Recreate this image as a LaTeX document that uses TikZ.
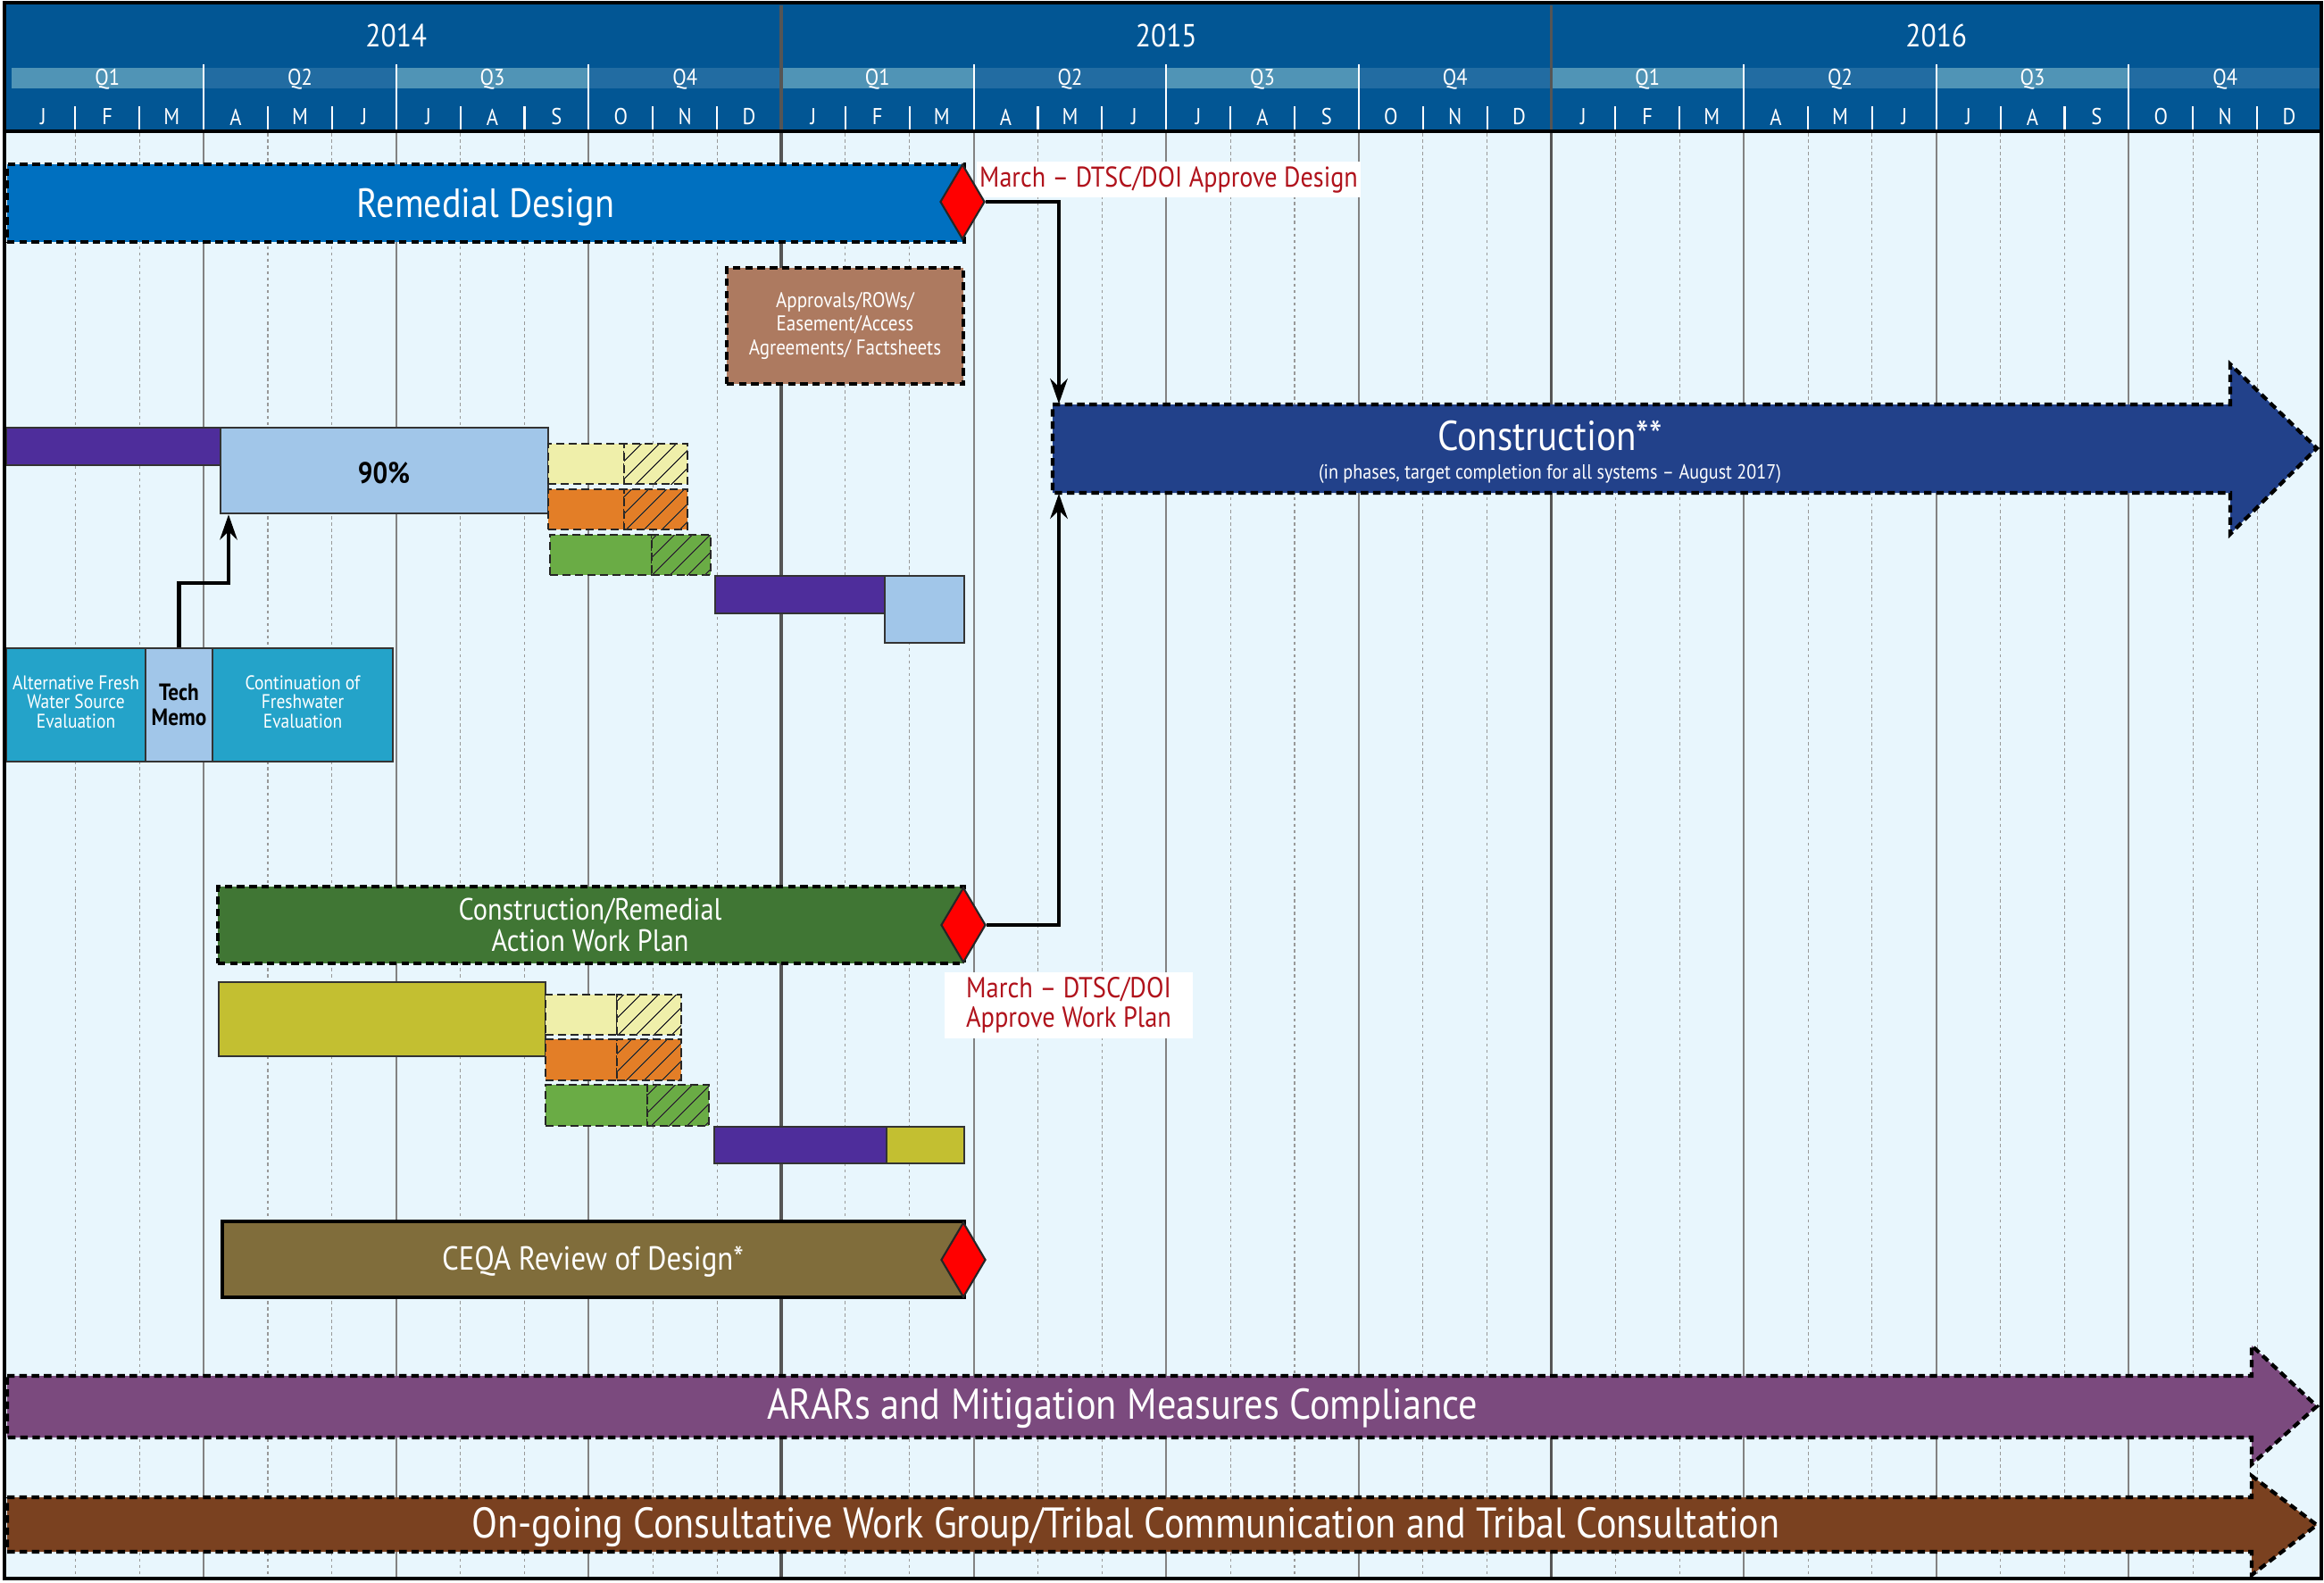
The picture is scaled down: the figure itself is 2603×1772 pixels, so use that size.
\documentclass[tikz,border=0pt]{standalone}
\usepackage{fontspec}
\setmainfont{PT Sans}[FakeStretch=0.88]
\usetikzlibrary{arrows.meta,shapes.geometric,fit,patterns.meta}
\definecolor{hdrblue}{RGB}{2,86,148}
\definecolor{qlight}{RGB}{80,148,182}
\definecolor{qmid}{RGB}{34,108,162}
\definecolor{bodyblue}{RGB}{232,246,253}
\definecolor{yearline}{RGB}{85,85,85}
\definecolor{qline}{RGB}{130,130,130}
\definecolor{rdblue}{RGB}{0,112,192}
\definecolor{permitbrown}{RGB}{173,122,96}
\definecolor{constrblue}{RGB}{34,65,138}
\definecolor{dsgnpurple}{RGB}{78,45,155}
\definecolor{dsgnlight}{RGB}{161,198,233}
\definecolor{paleyel}{RGB}{239,239,170}
\definecolor{revorange}{RGB}{227,126,39}
\definecolor{revgreen}{RGB}{106,172,69}
\definecolor{fwteal}{RGB}{36,163,201}
\definecolor{wpgreen}{RGB}{64,118,52}
\definecolor{wpolive}{RGB}{195,191,49}
\definecolor{ceqabrown}{RGB}{128,109,59}
\definecolor{ararpurple}{RGB}{123,74,126}
\definecolor{tribalbrown}{RGB}{122,65,32}
\definecolor{msred}{RGB}{176,18,27}
\tikzset{
  bar/.style = {inner sep=0pt},
  bartext/.style = {inner sep=0pt, text=white, align=center},
  dashbar/.style = {bar, draw=black, line width=1.2pt,
    dash pattern=on 2.4pt off 1.5pt},% phase bar, dashed outline
  solidbar/.style = {bar, draw=black!80, line width=0.7pt},% task bar
  subbar/.style = {inner sep=0pt, draw=black!85, line width=0.65pt,
    dash pattern=on 2.6pt off 1.4pt},% review bar
  hatch/.style = {postaction={pattern={Lines[angle=45,distance=4pt,line width=0.35pt]},
    pattern color=black!80}},
  milestone/.style = {diamond, draw=black!85, line width=0.6pt, fill=red,
    inner sep=0pt, minimum width=0.5cm, minimum height=0.84cm},
  notebox/.style = {fill=white, text=msred, inner sep=1pt, align=center},
  conn/.style = {draw=black, line width=1.4pt},
  bigarrow/.style = {draw=black, line width=1.2pt, dash pattern=on 2.4pt off 1.5pt},
  yearlbl/.style = {text=white, inner sep=0pt, font=\fontsize{10.2}{12}\selectfont},
  qlbl/.style = {text=white, inner sep=0pt, font=\fontsize{7.3}{9}\selectfont},
  hdrtick/.style = {draw=white, line width=0.6pt},
  monthgrid/.style = {draw=black!40, line width=0.3pt, dash pattern=on 1pt off 1pt},
  qgrid/.style = {draw=qline, line width=0.6pt},
  ygrid/.style = {draw=yearline, line width=1.1pt}
}
\begin{document}
\begin{tikzpicture}[x=0.01cm, y=-0.01cm, >={Stealth[length=8pt,width=5.5pt]}]
\fill[white] (0,0) rectangle (2603,1772);
\useasboundingbox (0,0) rectangle (2603,1772);
\fill[bodyblue] (5,147) rectangle (2600,1768);
\fill[hdrblue] (5,3) rectangle (2600,147);
% quarter bands
\foreach \q in {0,2,...,10}
  \fill[qlight] ({12.5+215.625*\q},76) rectangle ({12.5+215.625*(\q+1)},99);
\foreach \q in {1,3,...,11}
  \fill[qmid] ({12.5+215.625*\q},76) rectangle ({12.5+215.625*(\q+1)},99);
% header ticks and body grid
\foreach \q in {1,2,3,5,6,7,9,10,11} {
  \draw[hdrtick] ({12.5+215.625*\q},72) -- ++(0,73);
  \draw[qgrid] ({12.5+215.625*\q},149) -- ++(0,1619);
}
\foreach \q in {0,...,11}
  \foreach \k in {1,2} {
    \draw[hdrtick] ({12.5+71.875*(3*\q+\k)},119) -- ++(0,26);
    \draw[monthgrid] ({12.5+71.875*(3*\q+\k)},149) -- ++(0,1619);
  }
\foreach \y in {1,2}
  \draw[ygrid] ({12.5+862.5*\y},6) -- ++(0,1762);
\draw[black, line width=1.1pt] (5,147) -- (2600,147);
% header labels
\foreach \y [count=\i from 0] in {2014,2015,2016}
  \node[yearlbl] (yr\y) at ({12.5+862.5*(\i+0.5)},40) {\y};
\foreach \i in {0,...,11} {
  \pgfmathtruncatemacro\qn{mod(\i,4)+1}
  \node[qlbl] (q\i) at ({12.5+215.625*(\i+0.5)},89) {Q\qn};
}
\foreach \yr in {0,1,2}
  \foreach \ml [count=\i from 0] in {J,F,M,A,M,J,J,A,S,O,N,D}
    \node[qlbl] (m\yr-\i) at ({12.5+71.875*(12*\yr+\i+0.5)},131) {\ml};

% remedial design
\node[dashbar, fill=rdblue, fit={(8,184) (1080,271)}] (rdbar) {};
\node[bartext, font=\fontsize{13}{15}\selectfont] (rdtxt) at (544,232) {Remedial Design};
\node[dashbar, fill=permitbrown, fit={(814,300) (1079,430)}] (permits) {};
\node[bartext, font=\fontsize{6.8}{7.5}\selectfont] (permtxt) at (permits)
  {Approvals/ROWs/\\Easement/Access\\Agreements/ Factsheets};

% construction
\draw[bigarrow, fill=constrblue] (1179,453) -- (2498,453) -- (2498,408) -- (2595,502)
  -- (2498,598) -- (2498,552) -- (1179,552) -- cycle;
\node[inner sep=0pt, fit={(1179,453) (2498,552)}] (constr) {};
\node[bartext, font=\fontsize{13.3}{15}\selectfont] (constrttl) at (1736,488) {Construction**};
\node[bartext, font=\fontsize{6.5}{7.5}\selectfont] (constrsub) at (1736,531)
  {(in phases, target completion for all systems – August 2017)};

% design packages
\node[solidbar, fill=dsgnpurple, fit={(7,479) (247,521)}] (dsgn1) {};
\node[solidbar, fill=dsgnlight, fit={(247,479) (614,575)}] (pct) {};
\node[bartext, text=black, font=\bfseries\fontsize{9.5}{11}\selectfont] (pcttxt) at (430,530) {90\%};
\node[subbar, fill=paleyel, fit={(614,497) (699,542)}] (rev1a) {};
\node[subbar, fill=paleyel, hatch, fit={(699,497) (770,542)}] (rev1b) {};
\node[subbar, fill=revorange, fit={(614,548) (699,593)}] (rev2a) {};
\node[subbar, fill=revorange, hatch, fit={(699,548) (770,593)}] (rev2b) {};
\node[subbar, fill=revgreen, fit={(616,599) (730,644)}] (rev3a) {};
\node[subbar, fill=revgreen, hatch, fit={(730,599) (796,644)}] (rev3b) {};
\node[solidbar, fill=dsgnpurple, fit={(801,645) (991,687)}] (dsgn2) {};
\node[solidbar, fill=dsgnlight, fit={(991,645) (1080,720)}] (dsgn3) {};

% fresh water
\node[solidbar, fill=fwteal, fit={(7,726) (163,853)}] (altfw) {};
\node[bartext, font=\fontsize{6.3}{6.1}\selectfont] (altfwtxt) at (85,786)
  {Alternative Fresh\\Water Source\\Evaluation};
\node[solidbar, fill=dsgnlight, fit={(163,726) (238,853)}] (tech) {};
\node[bartext, text=black, font=\bfseries\fontsize{7.5}{8}\selectfont] (techtxt) at (tech) {Tech\\Memo};
\node[solidbar, fill=fwteal, fit={(238,726) (440,853)}] (contfw) {};
\node[bartext, font=\fontsize{6.3}{6.1}\selectfont] (contfwtxt) at (339,786)
  {Continuation of\\Freshwater\\Evaluation};
\coordinate (techhook) at (256,653);
\draw[conn, ->] (tech.north) |- (techhook) -- (techhook |- pct.south);

% work plan
\node[dashbar, fill=wpgreen, fit={(244,993) (1080,1079)}] (wplan) {};
\node[bartext, font=\fontsize{9.8}{10}\selectfont] (wptxt) at (661,1036)
  {Construction/Remedial\\Action Work Plan};
\node[solidbar, fill=wpolive, fit={(245,1100) (611,1183)}] (wp1) {};
\node[subbar, fill=paleyel, fit={(611,1114) (691,1159)}] (wprev1a) {};
\node[subbar, fill=paleyel, hatch, fit={(691,1114) (763,1159)}] (wprev1b) {};
\node[subbar, fill=revorange, fit={(611,1164) (691,1210)}] (wprev2a) {};
\node[subbar, fill=revorange, hatch, fit={(691,1164) (763,1210)}] (wprev2b) {};
\node[subbar, fill=revgreen, fit={(611,1215) (725,1261)}] (wprev3a) {};
\node[subbar, fill=revgreen, hatch, fit={(725,1215) (794,1261)}] (wprev3b) {};
\node[solidbar, fill=dsgnpurple, fit={(800,1262) (993,1303)}] (wp2) {};
\node[solidbar, fill=wpolive, fit={(993,1262) (1080,1303)}] (wp3) {};

% ceqa
\node[solidbar, fill=ceqabrown, draw=black, line width=0.9pt, fit={(249,1368) (1080,1453)}] (ceqa) {};
\node[bartext, font=\fontsize{10.6}{12}\selectfont] (ceqatxt) at (664,1413) {CEQA Review of Design*};

% notes and milestones
\node[notebox, anchor=west, minimum height=0.4cm, font=\fontsize{9.1}{10}\selectfont]
  (rdnote) at (1093,201) {March – DTSC/DOI Approve Design};
\node[notebox, minimum width=2.77cm, minimum height=0.74cm, font=\fontsize{9.2}{9.4}\selectfont]
  (wpnote) at (1197,1126) {March – DTSC/DOI\\Approve Work Plan};
\node[milestone] (rdmile) at (1078,226) {};
\node[milestone] (wpmile) at (1079,1036) {};
\node[milestone] (ceqamile) at (1079,1411) {};
\coordinate (cin) at (1186,0);
\draw[conn, ->] (rdmile.east) -| (cin |- constr.north);
\draw[conn, ->] (wpmile.east) -| (cin |- constr.south);

% ongoing
\draw[bigarrow, fill=ararpurple] (8,1541) -- (2522,1541) -- (2522,1507) -- (2595,1575)
  -- (2522,1640) -- (2522,1610) -- (8,1610) -- cycle;
\node[bartext, font=\fontsize{13.7}{15}\selectfont] (arars) at (1257,1577)
  {ARARs and Mitigation Measures Compliance};
\draw[bigarrow, fill=tribalbrown] (8,1677) -- (2522,1677) -- (2522,1653) -- (2595,1708)
  -- (2522,1764) -- (2522,1738) -- (8,1738) -- cycle;
\node[bartext, font=\fontsize{13.65}{15}\selectfont] (tribal) at (1261,1710)
  {On-going Consultative Work Group/Tribal Communication and Tribal Consultation};

\draw[black, line width=1.3pt] (5,3) rectangle (2600,1768);
\end{tikzpicture}
\end{document}
